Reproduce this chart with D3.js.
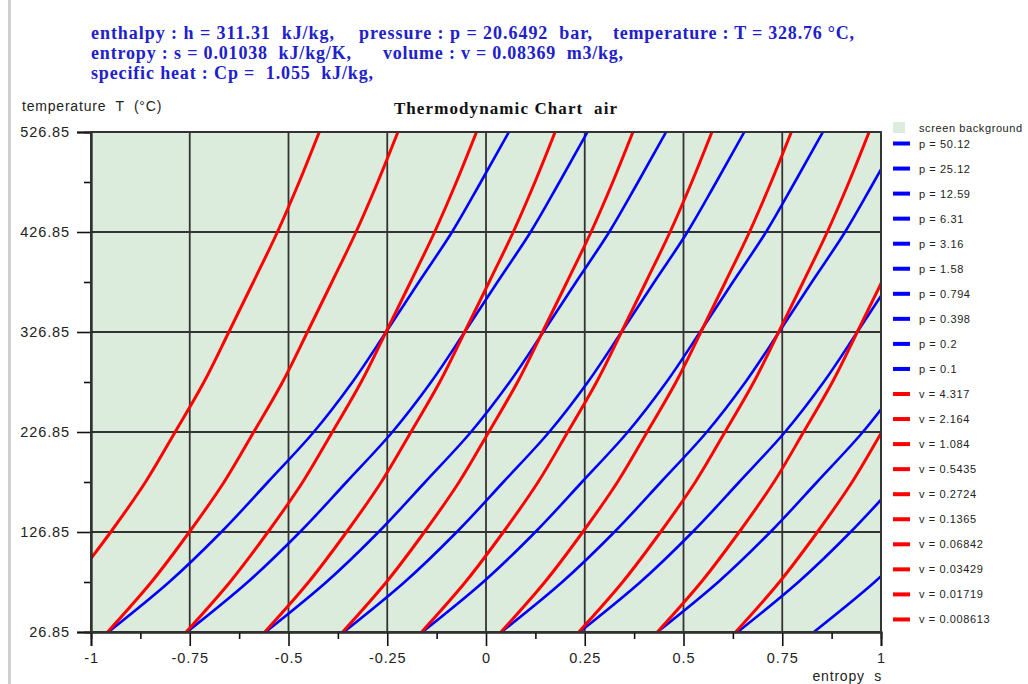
<!DOCTYPE html>
<html><head><meta charset="utf-8">
<script src="https://cdn.jsdelivr.net/npm/d3@7"></script>
<style>
html,body{margin:0;padding:0;background:#fff;}
svg{display:block;}
text{white-space:pre;}
</style></head><body>
<svg id="chart" width="1028" height="684"></svg>
<script>
// ---------------- data ----------------
const temps = [26.85, 76.85, 126.85, 176.85, 226.85, 276.85, 326.85, 376.85, 426.85, 476.85, 526.85];

const isobarLabels = ["p = 50.12","p = 25.12","p = 12.59","p = 6.31","p = 3.16","p = 1.58","p = 0.794","p = 0.398","p = 0.2","p = 0.1"];
const isochoreLabels = ["v = 4.317","v = 2.164","v = 1.084","v = 0.5435","v = 0.2724","v = 0.1365","v = 0.06842","v = 0.03429","v = 0.01719","v = 0.008613"];

// entropy s read at each temperature of `temps` (null = outside the chart)
const isobarS = [
  [-0.956, -0.802, -0.670, -0.552, -0.436, -0.338, -0.253, -0.170, -0.086, -0.013, 0.058],
  [-0.757, -0.603, -0.471, -0.353, -0.237, -0.139, -0.054, 0.029, 0.113, 0.186, 0.257],
  [-0.558, -0.404, -0.272, -0.154, -0.038, 0.060, 0.145, 0.228, 0.312, 0.385, 0.456],
  [-0.360, -0.206, -0.074, 0.044, 0.160, 0.258, 0.343, 0.426, 0.510, 0.583, 0.654],
  [-0.161, -0.007, 0.125, 0.243, 0.359, 0.457, 0.542, 0.625, 0.709, 0.782, 0.853],
  [0.039, 0.193, 0.325, 0.443, 0.559, 0.657, 0.742, 0.825, 0.909, 0.982, 1.053],
  [0.237, 0.391, 0.523, 0.641, 0.757, 0.855, 0.940, 1.023, null, null, null],
  [0.434, 0.588, 0.720, 0.838, 0.954, 1.052, null, null, null, null, null],
  [0.637, 0.791, 0.923, 1.041, null, null, null, null, null, null, null],
  [0.830, 0.984, 1.116, null, null, null, null, null, null, null, null]
];
const isochoreS = [
  [0.632, 0.743, 0.839, 0.927, 1.002, 1.075, null, null, null, null, null],
  [0.434, 0.545, 0.641, 0.729, 0.804, 0.877, 0.940, 1.002, 1.063, null, null],
  [0.235, 0.346, 0.442, 0.530, 0.605, 0.678, 0.741, 0.803, 0.864, 0.919, 0.970],
  [0.038, 0.149, 0.245, 0.333, 0.408, 0.481, 0.544, 0.606, 0.667, 0.722, 0.773],
  [-0.163, -0.052, 0.044, 0.132, 0.207, 0.280, 0.343, 0.405, 0.466, 0.521, 0.572],
  [-0.363, -0.252, -0.156, -0.068, 0.007, 0.080, 0.143, 0.205, 0.266, 0.321, 0.372],
  [-0.560, -0.449, -0.353, -0.265, -0.190, -0.117, -0.054, 0.008, 0.069, 0.124, 0.175],
  [-0.759, -0.648, -0.552, -0.464, -0.389, -0.316, -0.253, -0.191, -0.130, -0.075, -0.024],
  [-0.958, -0.847, -0.751, -0.663, -0.588, -0.515, -0.452, -0.390, -0.329, -0.274, -0.223],
  [null, -1.046, -0.950, -0.862, -0.787, -0.714, -0.651, -0.589, -0.528, -0.473, -0.422]
];

const sTicks = [-1, -0.75, -0.5, -0.25, 0, 0.25, 0.5, 0.75, 1];
const sTickLabels = ["-1","-0.75","-0.5","-0.25","0","0.25","0.5","0.75","1"];
const tTicks = [26.85, 126.85, 226.85, 326.85, 426.85, 526.85];
const tTickLabels = ["26.85","126.85","226.85","326.85","426.85","526.85"];

const headerLine1 = ["enthalpy : h = 311.31  kJ/kg,", "pressure : p = 20.6492  bar,", "temperature : T = 328.76 °C,"];
const headerLine2 = ["entropy : s = 0.01038  kJ/kg/K,", "volume : v = 0.08369  m3/kg,"];
const headerLine3 = ["specific heat : Cp =  1.055  kJ/kg,"];
const chartTitle = "Thermodynamic Chart  air";
const yTitle = "temperature  T  (°C)";
const xTitle = "entropy  s";
const bgLabel = "screen background";

// ---------------- layout ----------------
const W = 1028, H = 684;
const P = {left: 91, right: 881, top: 132, bottom: 632};
const BG = "#dcecdc", BLUE = "#0000ff", RED = "#ff0000", GRID = "#333";
const svg = d3.select("#chart");

const x = d3.scaleLinear().domain([-1, 1]).range([P.left, P.right]);
const y = d3.scaleLinear().domain([26.85, 526.85]).range([P.bottom, P.top]);

// left decorative border
svg.append("rect").attr("x", 8).attr("y", 0).attr("width", 3).attr("height", H).attr("fill", "#cfcfcf");

// header
const hdrFont = "'Liberation Serif','Times New Roman',serif";
const hdr = svg.append("g").attr("fill", "#2020cc").attr("font-family", hdrFont)
  .attr("font-weight", "bold").attr("font-size", 18);
const hdrRows = [
  {y: 39, segs: headerLine1, xs: [91, 359, 613], ws: [243, 233, 241]},
  {y: 59, segs: headerLine2, xs: [91, 383], ws: [260, 240]},
  {y: 79, segs: headerLine3, xs: [91], ws: [282]}
];
hdrRows.forEach(r => r.segs.forEach((t, i) => {
  hdr.append("text").attr("x", r.xs[i]).attr("y", r.y).attr("textLength", r.ws[i])
    .attr("lengthAdjust", "spacing").text(t);
}));

// title & axis titles
svg.append("text").attr("x", 506).attr("y", 114).attr("text-anchor", "middle")
  .attr("font-family", hdrFont).attr("font-weight", "bold").attr("font-size", 17)
  .attr("letter-spacing", 1.1).attr("fill", "#111").text(chartTitle);
const sans = "'Liberation Sans',Arial,sans-serif";
svg.append("text").attr("x", 22).attr("y", 111).attr("font-family", sans).attr("font-size", 14)
  .attr("letter-spacing", 0.8).attr("fill", "#222").text(yTitle);
svg.append("text").attr("x", 882).attr("y", 681).attr("text-anchor", "end").attr("font-family", sans)
  .attr("font-size", 14).attr("letter-spacing", 0.8).attr("fill", "#222").text(xTitle);

// plot background
svg.append("rect").attr("x", P.left).attr("y", P.top).attr("width", P.right - P.left)
  .attr("height", P.bottom - P.top).attr("fill", BG);

// grid
const grid = svg.append("g").attr("stroke", GRID).attr("stroke-width", 1.8);
grid.selectAll("line.v").data(sTicks).join("line").attr("class", "v")
  .attr("x1", d => x(d)).attr("x2", d => x(d)).attr("y1", P.top).attr("y2", P.bottom);
grid.selectAll("line.h").data(tTicks).join("line").attr("class", "h")
  .attr("x1", P.left).attr("x2", P.right).attr("y1", d => y(d)).attr("y2", d => y(d));

// curves
svg.append("clipPath").attr("id", "clip").append("rect")
  .attr("x", P.left).attr("y", P.top).attr("width", P.right - P.left).attr("height", P.bottom - P.top);
const line = d3.line().defined(d => d[0] != null).x(d => x(d[0])).y(d => y(d[1])).curve(d3.curveMonotoneY);
const curves = svg.append("g").attr("clip-path", "url(#clip)").attr("fill", "none")
  .attr("stroke-linejoin", "round").attr("stroke-linecap", "round");
curves.selectAll("path.isobar").data(isobarS).join("path").attr("class", "isobar")
  .attr("d", s => line(s.map((v, i) => [v, temps[i]]))).attr("stroke", BLUE).attr("stroke-width", 2.6);
curves.selectAll("path.isochore").data(isochoreS).join("path").attr("class", "isochore")
  .attr("d", s => line(s.map((v, i) => [v, temps[i]]))).attr("stroke", RED).attr("stroke-width", 3);

// axes
const tickFont = g => g.selectAll("text").attr("font-family", sans).attr("font-size", 14.5)
  .attr("letter-spacing", 0.9).attr("fill", "#222");
const sMinor = sTicks.slice(0, -1).map((d, i) => (d + sTicks[i + 1]) / 2);
const tMinor = tTicks.slice(0, -1).map((d, i) => (d + tTicks[i + 1]) / 2);

const yAxis = svg.append("g").attr("transform", `translate(${P.left},0)`)
  .call(d3.axisLeft(y).tickValues(tTicks).tickSize(14).tickPadding(7).tickFormat((d, i) => tTickLabels[i]));
yAxis.call(tickFont);
svg.append("g").attr("transform", `translate(${P.left},0)`)
  .call(d3.axisLeft(y).tickValues(tMinor).tickSize(7).tickFormat(""));
const xAxis = svg.append("g").attr("transform", `translate(0,${P.bottom})`)
  .call(d3.axisBottom(x).tickValues(sTicks).tickSize(14).tickPadding(7).tickFormat((d, i) => sTickLabels[i]));
xAxis.call(tickFont);
svg.append("g").attr("transform", `translate(0,${P.bottom})`)
  .call(d3.axisBottom(x).tickValues(sMinor).tickSize(7).tickFormat(""));
svg.selectAll(".domain").attr("stroke", "#222").attr("stroke-width", 1.8);
svg.selectAll(".tick line").attr("stroke", "#111").attr("stroke-width", 1.6);

// plot border (top/right)
svg.append("rect").attr("x", P.left).attr("y", P.top).attr("width", P.right - P.left)
  .attr("height", P.bottom - P.top).attr("fill", "none").attr("stroke", GRID).attr("stroke-width", 1.8);

// legend
const leg = svg.append("g").attr("font-family", sans).attr("font-size", 11).attr("letter-spacing", 0.6).attr("fill", "#222");
leg.append("rect").attr("x", 893).attr("y", 122).attr("width", 12).attr("height", 11).attr("fill", BG);
leg.append("text").attr("x", 919).attr("y", 132).text(bgLabel);
const legItems = isobarLabels.map(l => ({label: l, color: BLUE})).concat(isochoreLabels.map(l => ({label: l, color: RED})));
const li = leg.selectAll("g.item").data(legItems).join("g").attr("class", "item")
  .attr("transform", (d, i) => `translate(0,${143.5 + i * 25.05})`);
li.append("rect").attr("x", 893).attr("y", -2).attr("width", 17).attr("height", 4).attr("fill", d => d.color);
li.append("text").attr("x", 919).attr("y", 4).text(d => d.label);
</script>
</body></html>
